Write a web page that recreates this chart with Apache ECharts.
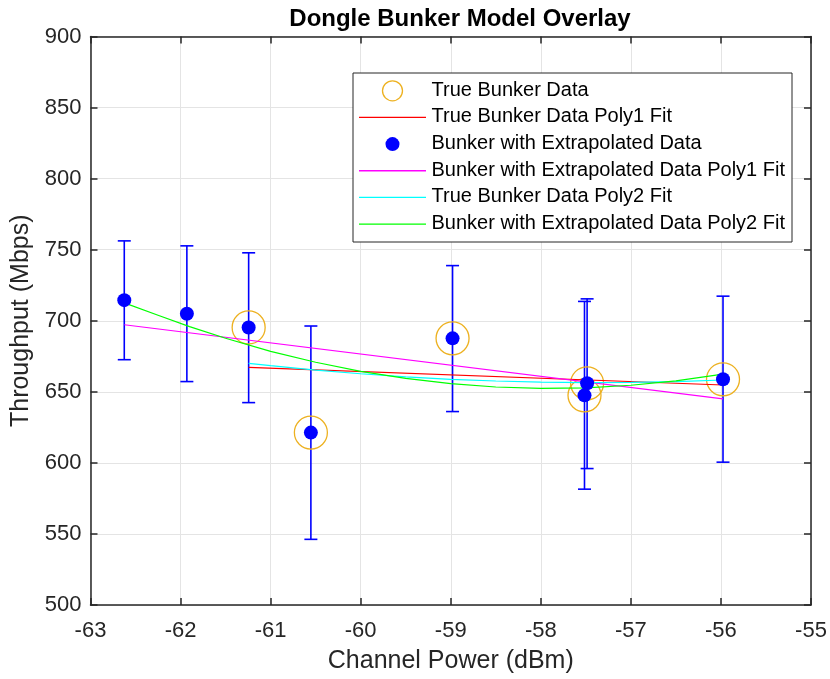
<!DOCTYPE html>
<html>
<head>
<meta charset="utf-8">
<script src="https://cdn.jsdelivr.net/npm/echarts@6/dist/echarts.min.js"></script>
<style>
html,body{margin:0;padding:0;background:#fff;}
#chart{width:830px;height:679px;}
</style>
</head>
<body>
<div id="chart"></div>
<script>
// ---- data ----
const titleText = 'Dongle Bunker Model Overlay';
const xLabel = 'Channel Power (dBm)';
const yLabel = 'Throughput (Mbps)';

// Bunker with extrapolated data (all points)
const extX    = [-62.625, -61.93, -61.244, -60.553, -58.98, -57.486, -57.515, -55.977];
const extY    = [714.5, 704.9, 695.3, 621.3, 687.6, 656.0, 647.5, 658.8];
const extLow  = [672.6, 657.2, 642.4, 546.2, 636.1, 596.0, 581.5, 600.5];
const extHigh = [756.2, 752.7, 747.8, 696.3, 738.8, 715.4, 713.6, 717.3];

// True bunker data
const trueX = [-61.244, -60.553, -58.98, -57.486, -57.515, -55.977];
const trueY = [695.3, 621.3, 687.6, 656.0, 647.5, 658.8];

// Fit curves
const truePoly1X = [-61.244, -55.977];
const truePoly1Y = [667.2, 654.8];
const extPoly1X  = [-62.625, -55.977];
const extPoly1Y  = [697.2, 645.0];
const truePoly2X = [-61.244, -61.0, -60.5, -60.0, -59.5, -59.0, -58.5, -58.0, -57.5, -57.0, -56.5, -55.977];
const truePoly2Y = [670.0, 668.4, 665.3, 662.7, 660.5, 658.8, 657.6, 656.8, 656.5, 656.6, 657.2, 658.3];
const extPoly2X  = [-62.625, -62.25, -61.9, -61.5, -61.0, -60.5, -60.0, -59.5, -59.0, -58.5, -58.0, -57.5, -57.0, -56.5, -55.977];
const extPoly2Y  = [712.6, 703.9, 695.9, 687.7, 678.5, 670.8, 664.4, 659.4, 655.7, 653.4, 652.4, 652.8, 654.6, 657.7, 662.5];

const legendNames = ['True Bunker Data', 'True Bunker Data Poly1 Fit', 'Bunker with Extrapolated Data',
  'Bunker with Extrapolated Data Poly1 Fit', 'True Bunker Data Poly2 Fit', 'Bunker with Extrapolated Data Poly2 Fit'];

const zip = (xs, ys) => xs.map((x, i) => [x, ys[i]]);
const errData = extX.map((x, i) => [x, extY[i], extLow[i], extHigh[i]]);

const FONT = 'Liberation Sans, Arial, Helvetica, sans-serif';
const AXC = '#262626';
const GRIDC = '#e4e4e4';
const ORANGE = '#EDB120';
const BLUE = '#0000ff';
const RED = '#ff0000', MAG = '#ff00ff', CYAN = '#00ffff', GREEN = '#00ff00';

// legend (drawn as graphic so the icons match the reference)
const legKinds = [
  {kind: 'ring', color: ORANGE}, {kind: 'line', color: RED}, {kind: 'dot', color: BLUE},
  {kind: 'line', color: MAG}, {kind: 'line', color: CYAN}, {kind: 'line', color: GREEN}
];
const LEG = {x: 353, y: 73, w: 439, h: 169, row0: 90.8, rowStep: 26.65, iconX1: 359, iconX2: 426, textX: 431.5};
const legendGraphic = [{
  type: 'rect', z: 100,
  shape: {x: LEG.x, y: LEG.y, width: LEG.w, height: LEG.h},
  style: {fill: '#ffffff', stroke: AXC, lineWidth: 1}
}];
legendNames.forEach((name, i) => {
  const cy = LEG.row0 + i * LEG.rowStep;
  const k = legKinds[i];
  const cx = (LEG.iconX1 + LEG.iconX2) / 2;
  if (k.kind === 'line') {
    legendGraphic.push({type: 'line', z: 101, shape: {x1: LEG.iconX1, y1: cy, x2: LEG.iconX2, y2: cy},
      style: {stroke: k.color, lineWidth: 1.3}});
  } else if (k.kind === 'ring') {
    legendGraphic.push({type: 'circle', z: 101, shape: {cx: cx, cy: cy, r: 10},
      style: {fill: 'none', stroke: k.color, lineWidth: 1.3}});
  } else {
    legendGraphic.push({type: 'circle', z: 101, shape: {cx: cx, cy: cy, r: 7},
      style: {fill: k.color}});
  }
  legendGraphic.push({type: 'text', z: 101, x: LEG.textX, y: cy - 0.5,
    style: {text: name, fill: '#000', font: '20px ' + FONT, textVerticalAlign: 'middle', verticalAlign: 'middle'}});
});

const chart = echarts.init(document.getElementById('chart'), null, {renderer: 'canvas'});

const baseX = {
  type: 'value', min: -63, max: -55, interval: 1,
  axisLine: {show: true, onZero: false, lineStyle: {color: AXC, width: 1.5}},
  axisTick: {show: true, inside: true, length: 7, lineStyle: {color: AXC, width: 1.5}},
};
const baseY = {
  type: 'value', min: 500, max: 900, interval: 50,
  axisLine: {show: true, onZero: false, lineStyle: {color: AXC, width: 1.5}},
  axisTick: {show: true, inside: true, length: 7, lineStyle: {color: AXC, width: 1.5}},
};

chart.setOption({
  animation: false,
  backgroundColor: '#ffffff',
  title: {
    text: titleText, left: 460, top: 7, textAlign: 'center', padding: 0,
    textStyle: {fontFamily: FONT, fontSize: 24, fontWeight: 'bold', color: '#000'}
  },
  grid: {left: 90.5, right: 19, top: 36.5, bottom: 73, containLabel: false},
  xAxis: [
    Object.assign({}, baseX, {
      position: 'bottom',
      name: xLabel, nameLocation: 'middle', nameGap: 44,
      nameTextStyle: {fontFamily: FONT, fontSize: 25, color: AXC},
      axisLabel: {fontFamily: FONT, fontSize: 22, color: AXC, margin: 15},
      splitLine: {show: true, lineStyle: {color: GRIDC, width: 1}}
    }),
    Object.assign({}, baseX, {
      position: 'top', axisLabel: {show: false}, splitLine: {show: false}
    })
  ],
  yAxis: [
    Object.assign({}, baseY, {
      position: 'left',
      name: yLabel, nameLocation: 'middle', nameGap: 55, nameRotate: 90,
      nameTextStyle: {fontFamily: FONT, fontSize: 25, color: AXC},
      axisLabel: {fontFamily: FONT, fontSize: 22, color: AXC, margin: 9},
      splitLine: {show: true, lineStyle: {color: GRIDC, width: 1}}
    }),
    Object.assign({}, baseY, {
      position: 'right', axisLabel: {show: false}, splitLine: {show: false}
    })
  ],
  graphic: legendGraphic,
  series: [
    {
      name: 'errorbars', type: 'custom', xAxisIndex: 0, yAxisIndex: 0, z: 3,
      data: errData, encode: {x: 0, y: [1, 2, 3]},
      renderItem: function (params, api) {
        const x = api.value(0);
        const top = api.coord([x, api.value(3)]);
        const bot = api.coord([x, api.value(2)]);
        const hw = 6.5;
        const st = {stroke: BLUE, lineWidth: 1.6};
        return {
          type: 'group',
          children: [
            {type: 'line', shape: {x1: top[0], y1: top[1], x2: bot[0], y2: bot[1]}, style: st},
            {type: 'line', shape: {x1: top[0] - hw, y1: top[1], x2: top[0] + hw, y2: top[1]}, style: st},
            {type: 'line', shape: {x1: bot[0] - hw, y1: bot[1], x2: bot[0] + hw, y2: bot[1]}, style: st}
          ]
        };
      }
    },
    {
      name: legendNames[0], type: 'scatter', symbol: 'circle', symbolSize: 33, z: 4,
      data: zip(trueX, trueY),
      itemStyle: {color: 'rgba(0,0,0,0)', borderColor: ORANGE, borderWidth: 1.3, opacity: 1}
    },
    {
      name: legendNames[1], type: 'line', symbol: 'none', z: 5,
      data: zip(truePoly1X, truePoly1Y),
      lineStyle: {color: RED, width: 1.2}
    },
    {
      name: legendNames[2], type: 'scatter', symbol: 'circle', symbolSize: 14, z: 6,
      data: zip(extX, extY),
      itemStyle: {color: BLUE, opacity: 1}
    },
    {
      name: legendNames[3], type: 'line', symbol: 'none', z: 5,
      data: zip(extPoly1X, extPoly1Y),
      lineStyle: {color: MAG, width: 1.2}
    },
    {
      name: legendNames[4], type: 'line', symbol: 'none', z: 5,
      data: zip(truePoly2X, truePoly2Y),
      lineStyle: {color: CYAN, width: 1.2}
    },
    {
      name: legendNames[5], type: 'line', symbol: 'none', z: 5,
      data: zip(extPoly2X, extPoly2Y),
      lineStyle: {color: GREEN, width: 1.2}
    }
  ]
});
</script>
</body>
</html>
